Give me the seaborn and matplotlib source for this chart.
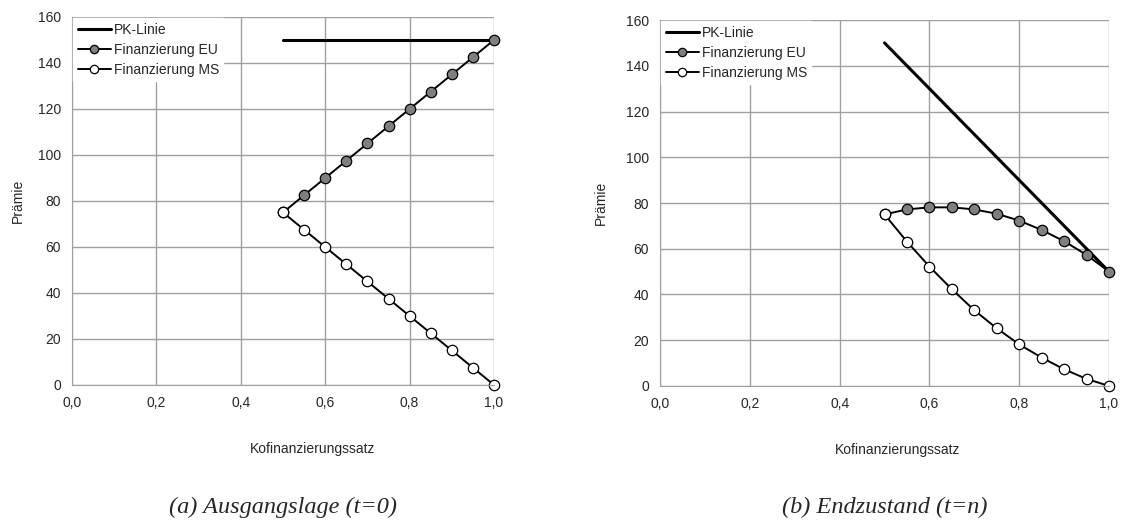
import numpy as np
import pandas as pd
import matplotlib
matplotlib.use('Agg')
import matplotlib.pyplot as plt
import seaborn as sb

sb.set_style('white')
plt.rcParams['font.family'] = ['Liberation Sans', 'DejaVu Sans']

satz = [0.5, 0.55, 0.6, 0.65, 0.7, 0.75, 0.8, 0.85, 0.9, 0.95, 1.0]

# (a) Ausgangslage
pk_a_x = [0.5, 1.0]
pk_a_y = [150, 150]
eu_a = [75, 82.5, 90, 97.5, 105, 112.5, 120, 127.5, 135, 142.5, 150]
ms_a = [75, 67.5, 60, 52.5, 45, 37.5, 30, 22.5, 15, 7.5, 0]

# (b) Endzustand
pk_b_x = [0.5, 1.0]
pk_b_y = [150, 50]
eu_b = [75, 77.2, 78.1, 78.1, 77.2, 75.3, 72.3, 68.2, 63.3, 57.3, 50]
ms_b = [75, 63.1, 52.2, 42.3, 33.1, 25.2, 18.2, 12.4, 7.3, 3.1, 0]

captions = ['(a) Ausgangslage (t=0)', '(b) Endzustand (t=n)']

fig = plt.figure(figsize=(11.21, 5.31), dpi=100)
ax_a = fig.add_axes([0.0642, 0.275, 0.3765, 0.693])
ax_b = fig.add_axes([0.5888, 0.2731, 0.4005, 0.6892])

panels = [
    (ax_a, pk_a_x, pk_a_y, eu_a, ms_a, 0.57, -0.111),
    (ax_b, pk_b_x, pk_b_y, eu_b, ms_b, 0.53, -0.116),
]

for i, (ax, pkx, pky, eu, ms, xl, yl) in enumerate(panels):
    sb.lineplot(x=pkx, y=pky, ax=ax, color='black', lw=2.2, label='PK-Linie')
    sb.lineplot(x=satz, y=eu, ax=ax, color='black', lw=1.4, marker='o',
                markersize=7.5, markerfacecolor='#7f7f7f', markeredgecolor='black',
                markeredgewidth=0.9, label='Finanzierung EU')
    sb.lineplot(x=satz, y=ms, ax=ax, color='black', lw=1.4, marker='o',
                markersize=7.5, markerfacecolor='white', markeredgecolor='black',
                markeredgewidth=0.9, label='Finanzierung MS')

    ax.set_xlim(0, 1.0)
    ax.set_ylim(0, 160)
    ax.set_xticks(np.arange(0, 1.01, 0.2))
    ax.set_xticklabels([f'{v:.1f}'.replace('.', ',') for v in np.arange(0, 1.01, 0.2)])
    ax.set_yticks(range(0, 161, 20))
    ax.grid(True, color='#a0a0a0', lw=1.0)
    ax.set_axisbelow(True)
    for s in ['top', 'right']:
        ax.spines[s].set_visible(False)
    for s in ['left', 'bottom']:
        ax.spines[s].set_color('#a0a0a0')
    ax.tick_params(axis='both', direction='out', length=4, color='#a0a0a0',
                   labelsize=10, pad=4)
    ax.set_xlabel('Kofinanzierungssatz', fontsize=10)
    ax.set_ylabel('Prämie', fontsize=10)
    ax.xaxis.set_label_coords(xl, -0.155)
    ax.yaxis.set_label_coords(yl, 0.5)
    ax.patch.set_alpha(0)
    for m in ax.lines:
        m.set_clip_on(False)

    leg = ax.legend(loc='upper left', frameon=True, fontsize=10, handlelength=2.4,
                    handletextpad=0.2, borderaxespad=0.1, labelspacing=0.45,
                    fancybox=False, edgecolor='white', framealpha=1.0,
                    borderpad=0.3, markerscale=0.8)

    cx = (ax.get_position().x0 + ax.get_position().x1) / 2
    fig.text(cx, 0.045, captions[i], ha='center', va='center', fontsize=17.5,
             family=['Liberation Serif'], style='italic')

fig.savefig('out.png', dpi=100)
